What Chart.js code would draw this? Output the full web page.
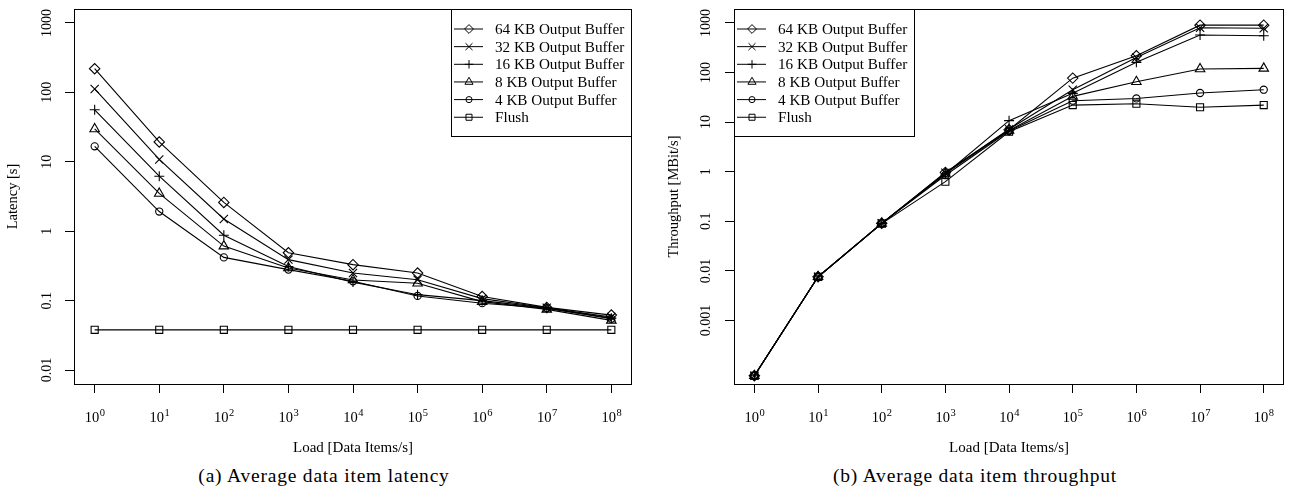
<!DOCTYPE html>
<html>
<head>
<meta charset="utf-8">
<script src="https://cdn.jsdelivr.net/npm/chart.js@4.4.0/dist/chart.umd.min.js"></script>
<style>
  body { margin: 0; background: #fff; width: 1291px; height: 493px; overflow: hidden; position: relative; font-family: "Liberation Serif", serif; }
  .wrap { position: absolute; top: 0; height: 462px; }
  #wrapA { left: 0; width: 645px; }
  #wrapB { left: 650px; width: 641px; }
  .cap { position: absolute; top: 465px; font-size: 19.5px; letter-spacing: 0.8px; text-align: center; color: #000; white-space: nowrap; }
  #capA { left: 0; width: 648px; }
  #capB { left: 650px; width: 650px; }
</style>
</head>
<body>
<div class="wrap" id="wrapA"><canvas id="latency" width="645" height="462"></canvas></div>
<div class="wrap" id="wrapB"><canvas id="throughput" width="641" height="462"></canvas></div>
<div class="cap" id="capA">(a) Average data item latency</div>
<div class="cap" id="capB">(b) Average data item throughput</div>
<script>
// ====== Data ======
const loads = [1, 10, 100, 1e3, 1e4, 1e5, 1e6, 1e7, 1e8];
const loadExponents = [0, 1, 2, 3, 4, 5, 6, 7, 8];
const seriesNames = ['64 KB Output Buffer', '32 KB Output Buffer', '16 KB Output Buffer',
                     '8 KB Output Buffer', '4 KB Output Buffer', 'Flush'];

// latency [s]
const latency64 = [219, 19.3, 2.6, 0.49, 0.33, 0.25, 0.115, 0.080, 0.062];
const latency32 = [112, 10.8, 1.5, 0.39, 0.25, 0.20, 0.107, 0.079, 0.058];
const latency16 = [56, 6.2, 0.875, 0.31, 0.185, 0.122, 0.100, 0.078, 0.056];
const latency8 = [29.7, 3.5, 0.61, 0.295, 0.198, 0.178, 0.097, 0.075, 0.052];
const latency4 = [16.7, 1.92, 0.42, 0.28, 0.19, 0.117, 0.092, 0.078, 0.055];
const latencyFlush = [0.038, 0.038, 0.038, 0.038, 0.038, 0.038, 0.038, 0.038, 0.038];
const latencyTicks = [0.01, 0.1, 1, 10, 100, 1000];
const latencyTickLabels = ['0.01', '0.1', '1', '10', '100', '1000'];

// throughput [MBit/s]
const tput64 = [7.7e-5, 0.0076, 0.091, 0.97, 7.0, 77, 218, 900, 900];
const tput32 = [7.7e-5, 0.0076, 0.091, 0.95, 7.2, 45, 200, 800, 780];
const tput16 = [7.7e-5, 0.0076, 0.091, 0.90, 10.7, 38, 160, 570, 550];
const tput8 = [7.7e-5, 0.0076, 0.091, 0.92, 6.8, 33, 65, 118, 121];
const tput4 = [7.7e-5, 0.0076, 0.091, 0.85, 6.6, 27, 30, 38.6, 45];
const tputFlush = [7.7e-5, 0.0076, 0.090, 0.63, 6.4, 22, 23.5, 19.9, 22];
const tputTicks = [0.001, 0.01, 0.1, 1, 10, 100, 1000];
const tputTickLabels = ['0.001', '0.01', '0.1', '1', '10', '100', '1000'];

// ====== Styles ======
const FONT = '"Liberation Serif", "Times New Roman", serif';
const markers = [
  { pointStyle: 'rectRot', radius: 5.2 },
  { pointStyle: 'crossRot', radius: 5.8 },
  { pointStyle: 'cross', radius: 5 },
  { pointStyle: 'triangle', radius: 5.5 },
  { pointStyle: 'circle', radius: 3.6 },
  { pointStyle: 'rect', radius: 5 }
];

function makeDatasets(series) {
  return series.map((vals, i) => ({
    label: seriesNames[i],
    data: vals.map((v, j) => ({ x: loads[j], y: v })),
    borderColor: '#000',
    borderWidth: 1.1,
    pointStyle: markers[i].pointStyle,
    pointRadius: markers[i].radius,
    pointBorderColor: '#000',
    pointBackgroundColor: 'rgba(0,0,0,0)',
    pointBorderWidth: 1.1,
    tension: 0
  }));
}

// ====== R-like frame, x labels with exponents, legend ======
const rFrame = {
  id: 'rFrame',
  afterDraw(chart, args, o) {
    const { ctx, chartArea: a } = chart;
    ctx.save();
    ctx.strokeStyle = '#000';
    ctx.fillStyle = '#000';
    ctx.lineWidth = 1;
    ctx.strokeRect(Math.round(a.left) + 0.5, Math.round(a.top) + 0.5,
                   Math.round(a.right - a.left) - 1, Math.round(a.bottom - a.top));

    // x tick labels 10^n
    const xs = chart.scales.x;
    ctx.textBaseline = 'alphabetic';
    ctx.textAlign = 'left';
    loads.forEach((v, i) => {
      const px = xs.getPixelForValue(v);
      const exp = String(loadExponents[i]);
      ctx.font = '14.5px ' + FONT;
      const w1 = ctx.measureText('10').width;
      ctx.font = '10.5px ' + FONT;
      const w2 = ctx.measureText(exp).width;
      const x0 = px - (w1 + w2) / 2;
      ctx.font = '14.5px ' + FONT;
      ctx.fillText('10', x0, a.bottom + 38);
      ctx.font = '10.5px ' + FONT;
      ctx.fillText(exp, x0 + w1 + 0.5, a.bottom + 32);
    });

    // legend box
    const bw = 181, bh = 127;
    const bx = o.side === 'right' ? Math.round(a.right) - bw : Math.round(a.left);
    const by = Math.round(a.top);
    ctx.fillStyle = '#fff';
    ctx.fillRect(bx, by, bw, bh);
    ctx.strokeRect(bx + 0.5, by + 0.5, bw - 1, bh);
    ctx.font = '15.2px ' + FONT;
    ctx.textBaseline = 'middle';
    chart.data.datasets.forEach((ds, i) => {
      const y = by + 20 + i * 17.65;
      ctx.strokeStyle = '#000';
      ctx.beginPath();
      ctx.moveTo(bx + 3, y);
      ctx.lineTo(bx + 32, y);
      ctx.stroke();
      ctx.fillStyle = 'rgba(0,0,0,0)';
      Chart.helpers.drawPoint(ctx, { pointStyle: ds.pointStyle, radius: ds.pointRadius * 0.85, rotation: 0, borderWidth: 1 }, bx + 18, y);
      ctx.fillStyle = '#000';
      ctx.fillText(ds.label, bx + 44, y + 1);
    });
    ctx.restore();
  }
};

function makeChart(id, series, yTicks, yLabels, yTitle, opts) {
  const logTicks = (list) => (scale) => { scale.ticks = list.map(v => ({ value: v })); };
  return new Chart(document.getElementById(id), {
    type: 'line',
    data: { datasets: makeDatasets(series) },
    plugins: [rFrame],
    options: {
      responsive: false,
      animation: false,
      events: [],
      devicePixelRatio: 1,
      layout: { padding: { top: 9, right: opts.padRight, left: 0, bottom: 0 } },
      plugins: {
        legend: { display: false },
        tooltip: { enabled: false },
        rFrame: { side: opts.legendSide }
      },
      scales: {
        x: {
          type: 'logarithmic',
          bounds: 'data',
          min: Math.pow(10, -0.32),
          max: Math.pow(10, 8.32),
          afterBuildTicks: logTicks(loads),
          border: { display: false },
          grid: { display: true, drawOnChartArea: false, drawTicks: true, tickLength: 9, color: '#000', lineWidth: 1 },
          ticks: { display: false },
          title: { display: true, text: 'Load [Data Items/s]', color: '#000', font: { family: FONT, size: 15 }, padding: { top: 0, bottom: 5 } },
          afterFit: (s) => { s.height = 78; s.paddingLeft = 0; s.paddingRight = 0; }
        },
        y: {
          type: 'logarithmic',
          bounds: 'data',
          min: opts.yMin,
          max: opts.yMax,
          afterBuildTicks: logTicks(yTicks),
          border: { display: false },
          grid: { display: true, drawOnChartArea: false, drawTicks: true, tickLength: 9, color: '#000', lineWidth: 1 },
          ticks: {
            color: '#000', font: { family: FONT, size: 14 }, minRotation: 90, maxRotation: 90,
            crossAlign: 'center', padding: opts.tickPad, autoSkip: false,
            callback: (v, i) => yLabels[i]
          },
          title: { display: true, text: yTitle, color: '#000', font: { family: FONT, size: 14.5 }, padding: { top: opts.titlePad, bottom: 0 } },
          afterFit: (s) => { s.width = opts.axisWidth; s.paddingTop = 0; s.paddingBottom = 0; }
        }
      }
    }
  });
}

makeChart('latency',
  [latency64, latency32, latency16, latency8, latency4, latencyFlush],
  latencyTicks, latencyTickLabels, 'Latency [s]',
  { yMin: Math.pow(10, -2.2), yMax: Math.pow(10, 3.2), padRight: 13, axisWidth: 74, tickPad: 4, titlePad: 4, legendSide: 'right' });

makeChart('throughput',
  [tput64, tput32, tput16, tput8, tput4, tputFlush],
  tputTicks, tputTickLabels, 'Throughput [MBit/s]',
  { yMin: Math.pow(10, -4.28), yMax: Math.pow(10, 3.28), padRight: 1, axisWidth: 84, tickPad: 3, titlePad: 15, legendSide: 'left' });
</script>
</body>
</html>
